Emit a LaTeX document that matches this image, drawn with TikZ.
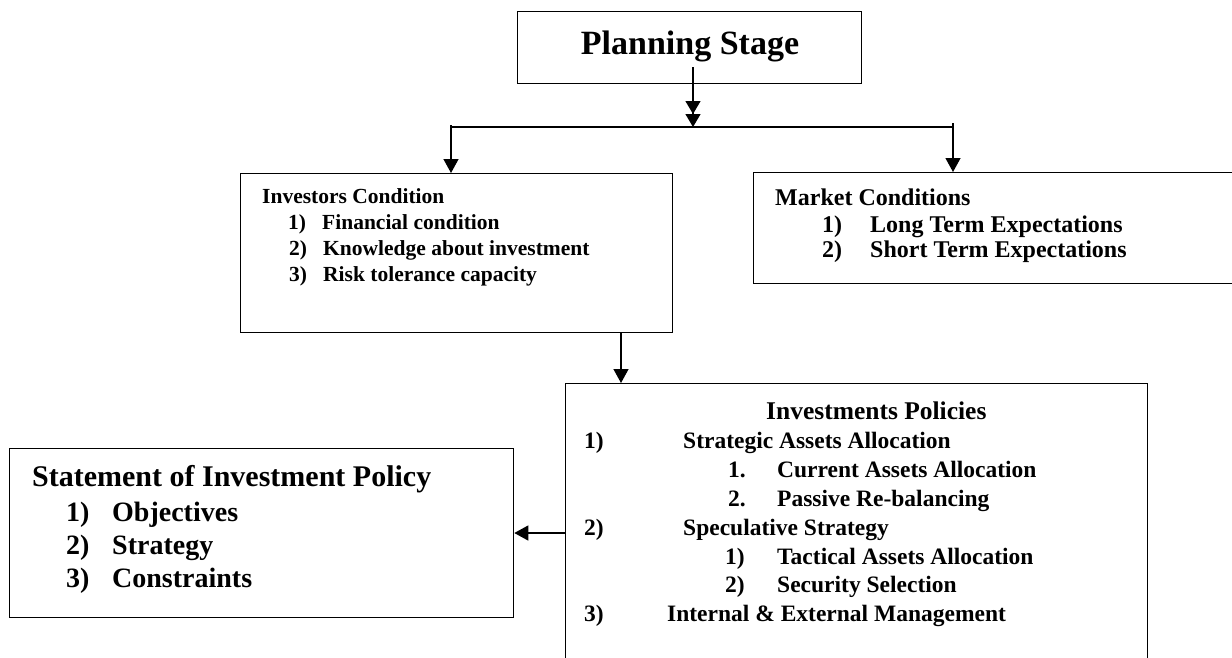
\documentclass[tikz,border=0pt]{standalone}
\usepackage{fontspec}
\setmainfont{Liberation Serif}
\usetikzlibrary{arrows.meta}
\newcommand\fPlan{\fontsize{34}{40}\selectfont}
\newcommand\fInv{\fontsize{21.5}{25}\selectfont}
\newcommand\fMkt{\fontsize{24}{28}\selectfont}
\newcommand\fPolT{\fontsize{25.5}{31}\selectfont}
\newcommand\fPol{\fontsize{23.5}{27}\selectfont}
\newcommand\fStT{\fontsize{30}{34}\selectfont}
\newcommand\fSt{\fontsize{28}{32}\selectfont}
\tikzset{
  box/.style={draw, line width=1.3pt, rectangle, inner sep=0pt, anchor=north west},
  txt/.style={anchor=base west, inner sep=0pt, font=\bfseries},
  conn/.style={line width=1.3pt, -{Triangle[length=14pt,width=15pt]}},
  dblconn/.style={line width=1.3pt, -{Triangle[length=13pt,width=15pt]Triangle[length=13pt,width=15pt]}},
  plain/.style={line width=1.3pt},
}
\begin{document}
\begin{tikzpicture}[x=1pt,y=-1pt]
\useasboundingbox (0,0) rectangle (1232,657);
\clip (0,0) rectangle (1232,657);
% boxes
\node[box, minimum width=344pt, minimum height=72pt] (plan) at (517,11) {};
\node[box, minimum width=432pt, minimum height=159pt] (inv) at (240,173) {};
\node[box, minimum width=600pt, minimum height=111pt] (mkt) at (753,172) {};
\node[box, minimum width=582pt, minimum height=400pt] (pol) at (565,383) {};
\node[box, minimum width=504pt, minimum height=169pt] (stmt) at (9,448) {};
% texts
\node[txt, anchor=base] (tplan) at (690,54) {\fPlan Planning Stage};
\node[txt] (ic0) at (262,203) {\fInv Investors Condition};
\node[txt] (ic1n) at (288,229) {\fInv 1)};
\node[txt] (ic1) at (322,229) {\fInv Financial condition};
\node[txt] (ic2n) at (289,255) {\fInv 2)};
\node[txt] (ic2) at (323,255) {\fInv Knowledge about investment};
\node[txt] (ic3n) at (289,281) {\fInv 3)};
\node[txt] (ic3) at (323,281) {\fInv Risk tolerance capacity};
\node[txt] (mc0) at (775,205) {\fMkt Market Conditions};
\node[txt] (mc1n) at (822,232) {\fMkt 1)};
\node[txt] (mc1) at (870,232) {\fMkt Long Term Expectations};
\node[txt] (mc2n) at (822,257) {\fMkt 2)};
\node[txt] (mc2) at (870,257) {\fMkt Short Term Expectations};
\node[txt] (ip0) at (766,419) {\fPolT Investments Policies};
\node[txt] (ip1n) at (584,448) {\fPol 1)};
\node[txt] (ip1) at (683,448) {\fPol Strategic Assets Allocation};
\node[txt] (ip11n) at (728,477) {\fPol 1.};
\node[txt] (ip11) at (777,477) {\fPol Current Assets Allocation};
\node[txt] (ip12n) at (728,506) {\fPol 2.};
\node[txt] (ip12) at (777,506) {\fPol Passive Re-balancing};
\node[txt] (ip2n) at (584,535) {\fPol 2)};
\node[txt] (ip2) at (683,535) {\fPol Speculative Strategy};
\node[txt] (ip21n) at (725,564) {\fPol 1)};
\node[txt] (ip21) at (777,564) {\fPol Tactical Assets Allocation};
\node[txt] (ip22n) at (725,592) {\fPol 2)};
\node[txt] (ip22) at (777,592) {\fPol Security Selection};
\node[txt] (ip3n) at (584,621) {\fPol 3)};
\node[txt] (ip3) at (667,621) {\fPol Internal \& External Management};
\node[txt] (st0) at (32,486) {\fStT Statement of Investment Policy};
\node[txt] (st1n) at (66,521) {\fSt 1)};
\node[txt] (st1) at (112,521) {\fSt Objectives};
\node[txt] (st2n) at (66,554) {\fSt 2)};
\node[txt] (st2) at (112,554) {\fSt Strategy};
\node[txt] (st3n) at (66,587) {\fSt 3)};
\node[txt] (st3) at (112,587) {\fSt Constraints};
% connectors
\coordinate (pA) at (693,67);
\coordinate (hub) at (693,127);
\coordinate (hL) at (451,127);
\coordinate (hR) at (953,127);
\coordinate (hLt) at (451,125);
\coordinate (hRt) at (953,123);
\coordinate (iv) at (621,0);
\coordinate (ay) at (0,533);
\draw[dblconn] (pA) -- (hub);
\draw[plain] (hL) -- (hR);
\draw[conn] (hLt) -- (hLt |- inv.north);
\draw[conn] (hRt) -- (hRt |- mkt.north);
\draw[conn] (inv.south -| iv) -- (pol.north -| iv);
\draw[conn] (pol.west |- ay) -- (stmt.east |- ay);
\end{tikzpicture}
\end{document}
